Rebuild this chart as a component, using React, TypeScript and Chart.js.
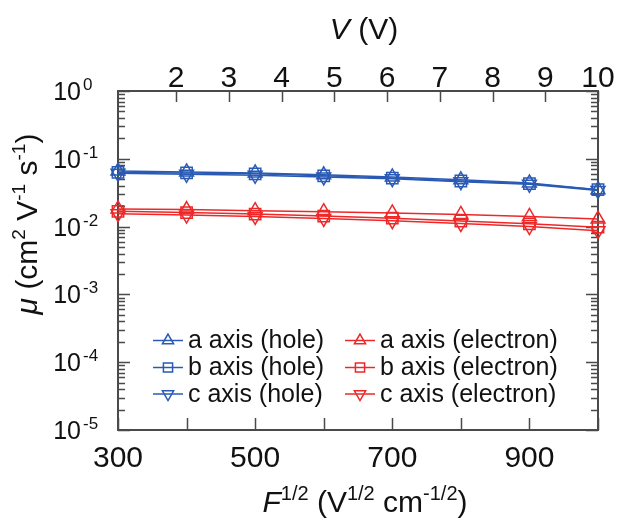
import React, { useEffect, useRef } from 'react';
import { Chart, registerables } from 'chart.js';

Chart.register(...registerables);

// ---------- data ----------
const fieldSqrt = [300, 400, 500, 600, 700, 800, 900, 1000];
const holeA = [0.066, 0.064, 0.062, 0.058, 0.054, 0.049, 0.044, 0.035];
const holeB = [0.063, 0.062, 0.06, 0.056, 0.052, 0.047, 0.043, 0.035];
const holeC = [0.061, 0.059, 0.057, 0.054, 0.051, 0.046, 0.042, 0.034];
const elecA = [0.0182, 0.0178, 0.0172, 0.0166, 0.0159, 0.0151, 0.0141, 0.0129];
const elecB = [0.0168, 0.0161, 0.0153, 0.0143, 0.0133, 0.0121, 0.011, 0.0098];
const elecC = [0.0155, 0.0148, 0.0141, 0.0132, 0.0122, 0.0111, 0.01, 0.0087];

const fTicks = [300, 400, 500, 600, 700, 800, 900, 1000];
const fTickLabels = [300, 500, 700, 900];
const vTicks = [2, 3, 4, 5, 6, 7, 8, 9, 10];
const muExponents = [0, -1, -2, -3, -4, -5];

const seriesLabels = [
  'a axis (hole)',
  'b axis (hole)',
  'c axis (hole)',
  'a axis (electron)',
  'b axis (electron)',
  'c axis (electron)',
];

const BLUE = 'rgb(42, 90, 180)';
const RED = 'rgb(238, 40, 40)';
const AXIS = '#4a4a4a';
const TEXT = '#111111';
const FONT = '"Liberation Sans", Arial, sans-serif';

type Part = { t: string; sup?: boolean; it?: boolean };

function drawRich(
  ctx: CanvasRenderingContext2D,
  parts: Part[],
  x: number,
  y: number,
  align: 'left' | 'center' | 'right',
  size: number,
  supSize: number,
  rise: number
) {
  const fontOf = (p: Part) => `${p.it ? 'italic ' : ''}${p.sup ? supSize : size}px ${FONT}`;
  const widths = parts.map((p) => {
    ctx.font = fontOf(p);
    return ctx.measureText(p.t).width;
  });
  const total = widths.reduce((a, b) => a + b, 0);
  let cx = align === 'left' ? x : align === 'center' ? x - total / 2 : x - total;
  ctx.textAlign = 'left';
  ctx.textBaseline = 'alphabetic';
  parts.forEach((p, i) => {
    ctx.font = fontOf(p);
    ctx.fillText(p.t, cx, p.sup ? y - rise : y);
    cx += widths[i];
  });
}

function drawMarker(ctx: CanvasRenderingContext2D, style: string, x: number, y: number, r: number) {
  ctx.beginPath();
  if (style === 'rect') {
    const s = Math.SQRT1_2 * r;
    ctx.rect(x - s, y - s, 2 * s, 2 * s);
  } else {
    const dir = style === 'down' ? -1 : 1;
    const h = Math.sin(Math.PI / 3) * r;
    ctx.moveTo(x, y - dir * r);
    ctx.lineTo(x + h, y + dir * r * 0.5);
    ctx.lineTo(x - h, y + dir * r * 0.5);
    ctx.closePath();
  }
  ctx.stroke();
}

const axesPlugin = {
  id: 'customAxes',
  beforeDatasetsDraw(chart: any) {
    const { ctx, chartArea } = chart;
    const { left, right, top, bottom } = chartArea;
    const xs = chart.scales.x;
    const xt = chart.scales.x2;
    const ys = chart.scales.y;
    ctx.save();
    ctx.strokeStyle = AXIS;
    ctx.lineWidth = 1.5;
    // y ticks (left and right)
    muExponents.forEach((e) => {
      for (let m = 1; m <= 9; m++) {
        if (e === 0 && m > 1) continue;
        const v = m * Math.pow(10, e);
        const py = Math.round(ys.getPixelForValue(v)) + 0.5;
        const len = m === 1 ? 12 : 7;
        ctx.beginPath();
        ctx.moveTo(left, py);
        ctx.lineTo(left + len, py);
        ctx.moveTo(right, py);
        ctx.lineTo(right - len, py);
        ctx.stroke();
      }
    });
    // bottom ticks
    fTicks.forEach((f) => {
      const px = Math.round(xs.getPixelForValue(f)) + 0.5;
      ctx.beginPath();
      ctx.moveTo(px, bottom);
      ctx.lineTo(px, bottom - 12);
      ctx.stroke();
    });
    // top ticks
    vTicks.forEach((v) => {
      const px = Math.round(xt.getPixelForValue(v)) + 0.5;
      ctx.beginPath();
      ctx.moveTo(px, top);
      ctx.lineTo(px, top + 11);
      ctx.stroke();
    });
    // frame
    ctx.lineWidth = 2;
    ctx.strokeRect(left, top, right - left, bottom - top);
    ctx.restore();
  },
  afterDraw(chart: any) {
    const { ctx } = chart;
    const xs = chart.scales.x;
    const xt = chart.scales.x2;
    const ys = chart.scales.y;
    ctx.save();
    ctx.fillStyle = TEXT;
    // y tick labels
    muExponents.forEach((e) => {
      const py = ys.getPixelForValue(Math.pow(10, e));
      ctx.font = `25px ${FONT}`;
      ctx.textAlign = 'right';
      ctx.textBaseline = 'alphabetic';
      ctx.fillText('10', 81, py + 9);
      ctx.font = `17px ${FONT}`;
      ctx.textAlign = 'left';
      ctx.fillText(String(e), 83, py - 1);
    });
    // bottom tick labels
    ctx.font = `30px ${FONT}`;
    ctx.textAlign = 'center';
    ctx.textBaseline = 'alphabetic';
    fTickLabels.forEach((f) => {
      ctx.fillText(String(f), xs.getPixelForValue(f), 467);
    });
    // top tick labels
    vTicks.forEach((v) => {
      ctx.fillText(String(v), xt.getPixelForValue(v), 87);
    });
    // axis titles
    drawRich(ctx, [{ t: 'V', it: true }, { t: ' (V)' }], 364, 39, 'center', 30, 19, 12);
    drawRich(
      ctx,
      [
        { t: 'F', it: true },
        { t: '1/2', sup: true },
        { t: ' (V' },
        { t: '1/2', sup: true },
        { t: ' cm' },
        { t: '-1/2', sup: true },
        { t: ')' },
      ],
      365,
      512,
      'center',
      30,
      20,
      12
    );
    ctx.save();
    ctx.translate(37, 224);
    ctx.rotate(-Math.PI / 2);
    drawRich(
      ctx,
      [
        { t: 'μ', it: true },
        { t: ' (cm' },
        { t: '2', sup: true },
        { t: ' V' },
        { t: '-1', sup: true },
        { t: ' s' },
        { t: '-1', sup: true },
        { t: ')' },
      ],
      0,
      0,
      'center',
      30,
      19,
      12
    );
    ctx.restore();

    // legend
    const styles = ['up', 'rect', 'down'];
    const rows = [348, 375, 401.5];
    const cols = [
      { x0: 153, x1: 183, mx: 168, tx: 188, color: BLUE },
      { x0: 345, x1: 375, mx: 360, tx: 380, color: RED },
    ];
    seriesLabels.forEach((label, i) => {
      const col = cols[Math.floor(i / 3)];
      const row = i % 3;
      const by = rows[row];
      const my = by - 7.5;
      ctx.strokeStyle = col.color;
      ctx.lineWidth = 1.5;
      ctx.beginPath();
      ctx.moveTo(col.x0, my);
      ctx.lineTo(col.x1, my);
      ctx.stroke();
      drawMarker(ctx, styles[row], col.mx, my, 6.5);
      ctx.fillStyle = TEXT;
      ctx.font = `25px ${FONT}`;
      ctx.textAlign = 'left';
      ctx.textBaseline = 'alphabetic';
      ctx.fillText(label, col.tx, by);
    });
    ctx.restore();
  },
};

function makeDataset(label: string, values: number[], color: string, style: string) {
  return {
    label,
    data: fieldSqrt.map((x, i) => ({ x, y: values[i] })),
    borderColor: color,
    backgroundColor: 'rgba(0,0,0,0)',
    borderWidth: 1.5,
    pointStyle: style === 'rect' ? 'rect' : 'triangle',
    pointRotation: style === 'down' ? 180 : 0,
    pointRadius: 8,
    pointBorderWidth: 1.5,
    pointBorderColor: color,
    pointBackgroundColor: 'rgba(0,0,0,0)',
    tension: 0,
    clip: false as any,
    xAxisID: 'x',
    yAxisID: 'y',
  };
}

export default function App() {
  const ref = useRef<HTMLCanvasElement | null>(null);
  useEffect(() => {
    if (!ref.current) return;
    const chart = new Chart(ref.current, {
      type: 'line',
      data: {
        datasets: [
          makeDataset(seriesLabels[0], holeA, BLUE, 'up'),
          makeDataset(seriesLabels[1], holeB, BLUE, 'rect'),
          makeDataset(seriesLabels[2], holeC, BLUE, 'down'),
          makeDataset(seriesLabels[3], elecA, RED, 'up'),
          makeDataset(seriesLabels[4], elecB, RED, 'rect'),
          makeDataset(seriesLabels[5], elecC, RED, 'down'),
        ] as any,
      },
      options: {
        responsive: false,
        animation: false,
        devicePixelRatio: 1,
        layout: { padding: { left: 118, top: 91, right: 20, bottom: 89 } },
        plugins: { legend: { display: false }, tooltip: { enabled: false } },
        scales: {
          x: { type: 'linear', min: 300, max: 1000, display: false },
          x2: { type: 'linear', position: 'top', min: 0.9, max: 10, display: false },
          y: { type: 'logarithmic', min: 1e-5, max: 1, display: false },
        },
      } as any,
      plugins: [axesPlugin],
    });
    return () => chart.destroy();
  }, []);
  return (
    <div style={{ position: 'fixed', left: 0, top: 0, width: 618, height: 519, background: '#fff' }}>
      <canvas ref={ref} width={618} height={519} style={{ display: 'block' }} />
    </div>
  );
}
